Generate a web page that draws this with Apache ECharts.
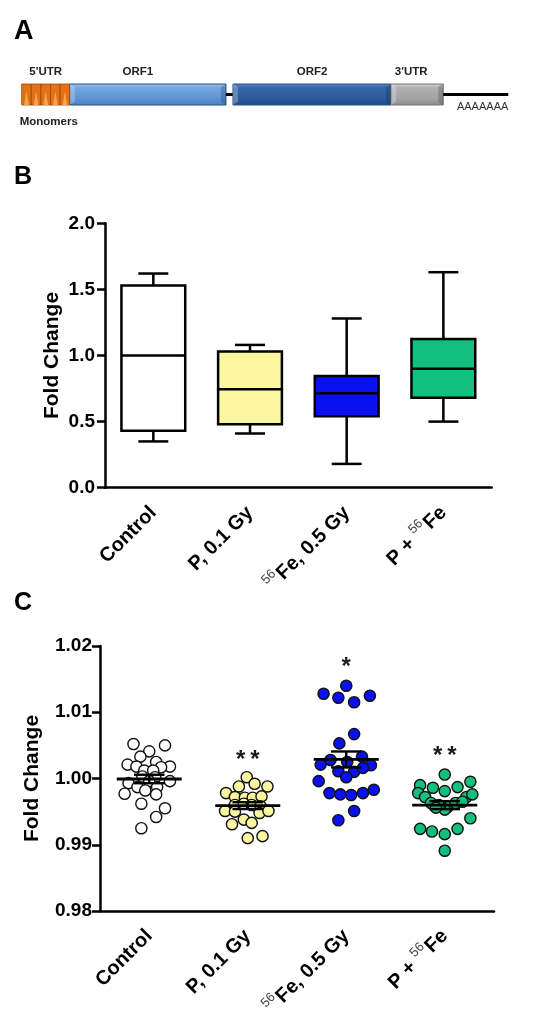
<!DOCTYPE html>
<html><head><meta charset="utf-8">
<script src="https://cdn.jsdelivr.net/npm/echarts@6.0.0/dist/echarts.min.js"></script>
<style>html,body{margin:0;padding:0;background:#fff}#c{width:535px;height:1015px}</style>
</head><body><div id="c"></div>
<script>
// ---------- DATA ----------
const categories = ['Control', 'P, 0.1 Gy', '56Fe, 0.5 Gy', 'P + 56Fe'];

// Panel A: schematic segments [start, end] in arbitrary length units
const segNames  = ["5'UTR", 'ORF1', '', 'ORF2', "3'UTR", 'AAAAAAA'];
const segKinds  = ['utr5', 'orf1', 'linker', 'orf2', 'utr3', 'tail'];
const segStart  = [0, 48, 204, 211, 369, 421];
const segEnd    = [48, 204, 211, 369, 421, 486];
const monomerCount = 5;

// Panel B: box plots [min, q1, median, q3, max]
const boxControl = [0.35, 0.43, 1.00, 1.53, 1.62];
const boxP01     = [0.41, 0.48, 0.745, 1.03, 1.08];
const boxFe      = [0.18, 0.54, 0.715, 0.845, 1.28];
const boxPFe     = [0.50, 0.68, 0.90, 1.125, 1.63];

// Panel C: individual points [horizontal jitter (fraction of category), fold change]
const ctrlDots = [
 [-0.16, 1.0052], [0.16, 1.0050], [0.00, 1.0041], [-0.09, 1.0033], [0.07, 1.0025],
 [-0.22, 1.0021], [-0.13, 1.0018], [0.21, 1.0018], [0.12, 1.0017], [-0.05, 1.0012],
 [0.04, 1.0012], [-0.07, 1.0003], [0.06, 1.0002], [0.00, 0.9996], [-0.21, 0.9993],
 [0.21, 0.9996], [-0.12, 0.9987], [-0.04, 0.9982], [0.08, 0.9987], [-0.25, 0.9977],
 [0.07, 0.9976], [-0.08, 0.9962], [0.16, 0.9955], [0.07, 0.9942], [-0.08, 0.9925]
];
const p01Dots = [
 [-0.01, 1.0002], [0.07, 0.9992], [-0.09, 0.9988], [0.20, 0.9988], [-0.22, 0.9978],
 [-0.13, 0.9972], [-0.03, 0.9971], [0.05, 0.9971], [0.14, 0.9973], [-0.13, 0.9960],
 [-0.04, 0.9962], [0.04, 0.9960], [0.13, 0.9958], [-0.23, 0.9951], [-0.13, 0.9950],
 [0.12, 0.9948], [0.21, 0.9951], [-0.04, 0.9938], [-0.16, 0.9931], [0.04, 0.9933],
 [0.00, 0.9910], [0.15, 0.9913]
];
const feDots = [
 [0.00, 1.0140], [-0.23, 1.0128], [-0.08, 1.0122], [0.08, 1.0115], [0.24, 1.0125],
 [0.08, 1.0067], [-0.07, 1.0053], [0.16, 1.0033], [-0.16, 1.0028], [0.01, 1.0025],
 [-0.26, 1.0021], [0.25, 1.0020], [-0.08, 1.0011], [0.08, 1.0010], [0.17, 1.0016],
 [0.00, 1.0002], [-0.28, 0.9996], [-0.17, 0.9978], [-0.06, 0.9976], [0.05, 0.9975],
 [0.17, 0.9978], [0.28, 0.9983], [0.08, 0.9951], [-0.08, 0.9937]
];
const pfeDots = [
 [0.00, 1.0006], [-0.25, 0.9990], [-0.12, 0.9986], [0.00, 0.9981], [0.13, 0.9987],
 [0.26, 0.9995], [-0.27, 0.9978], [-0.20, 0.9972], [0.22, 0.9972], [0.28, 0.9976],
 [-0.14, 0.9963], [-0.06, 0.9960], [0.03, 0.9957], [0.11, 0.9963], [0.00, 0.9953],
 [-0.09, 0.9956], [0.18, 0.9965], [0.26, 0.9940], [-0.25, 0.9924], [-0.13, 0.9920],
 [0.00, 0.9916], [0.13, 0.9924], [0.00, 0.9891]
];
// significance marks and their heights
const sigLabels = ['', '*\u2009*', '*', '*\u2009*'];
const sigY      = [null, 1.0027, 1.0167, 1.0033];

const yTicksB = [0, 0.5, 1.0, 1.5, 2.0];
const yTicksC = [0.98, 0.99, 1.00, 1.01, 1.02];

// ---------- STYLE ----------
const FONT = '"Liberation Sans", Arial, Helvetica, sans-serif';
const fills = ['#ffffff', '#fbf6a0', '#0a10f2', '#12c07e'];
const BLACK = '#000';

const chart = echarts.init(document.getElementById('c'), null, {renderer: 'canvas'});

function fmtCat(v) {
  const k = v.indexOf('56Fe');
  if (k < 0) return '{b|' + v + '}';
  const pre = v.slice(0, k), post = v.slice(k + 2);
  return (pre ? '{b|' + pre + '}' : '') + '{s|56}{b|' + post + '}';
}
const catRich = {
  b: { fontSize: 20, fontWeight: 'bold', color: BLACK, fontFamily: FONT, lineHeight: 28, verticalAlign: 'middle' },
  s: { fontSize: 13, fontWeight: 'normal', color: '#444', fontFamily: FONT, lineHeight: 12, verticalAlign: 'top', padding: [0, 1, 0, 0] }
};

function xCat(gi) {
  return {
    type: 'category', gridIndex: gi, data: categories,
    axisLine: { lineStyle: { color: BLACK, width: 2.5 } },
    axisTick: { alignWithLabel: true, length: 8, lineStyle: { color: BLACK, width: 2.5 } },
    axisLabel: { interval: 0, rotate: 45, margin: 22, color: BLACK, fontFamily: FONT, fontWeight: 'bold',
                 fontSize: 20, formatter: fmtCat, rich: catRich },
    splitLine: { show: false }
  };
}
function yVal(gi, ticks, dec, gap, lblMargin) {
  return {
    type: 'value', gridIndex: gi, min: ticks[0], max: ticks[ticks.length - 1],
    interval: +(ticks[1] - ticks[0]).toFixed(6),
    axisLine: { show: true, lineStyle: { color: BLACK, width: 2.5 } },
    axisTick: { show: true, length: 8, lineStyle: { color: BLACK, width: 2.5 } },
    axisLabel: { color: BLACK, fontFamily: FONT, fontWeight: 'bold', fontSize: 19, margin: lblMargin,
                 formatter: v => v.toFixed(dec) },
    splitLine: { show: false },
    name: 'Fold Change', nameLocation: 'middle', nameRotate: 90, nameGap: gap, nameMoveOverlap: false,
    nameTextStyle: { color: BLACK, fontFamily: FONT, fontWeight: 'bold', fontSize: 21 }
  };
}

// ---------- Panel A render ----------
function renderGene(params, api) {
  const i = params.dataIndex;
  const s = api.value(0), e = api.value(1);
  const p0 = api.coord([s, 0]), p1 = api.coord([e, 0]);
  const h = api.size([0, 2])[1];
  const top = p0[1] - h / 2;
  const w = p1[0] - p0[0];
  const kind = segKinds[i];
  const children = [];
  const lblStyle = { fill: '#222', font: 'bold 11.5px ' + FONT, textAlign: 'center', textVerticalAlign: 'middle' };
  if (kind === 'linker' || kind === 'tail') {
    children.push({ type: 'line', shape: { x1: p0[0], y1: p0[1], x2: p1[0], y2: p1[1] }, style: { stroke: '#000', lineWidth: 3 } });
    if (kind === 'tail') {
      children.push({ type: 'text', style: { text: segNames[i], x: p1[0], y: p0[1] + 12, fill: '#333',
        font: '11px ' + FONT, textAlign: 'right', textVerticalAlign: 'middle' } });
    }
  } else if (kind === 'utr5') {
    const uw = w / monomerCount;
    for (let k = 0; k < monomerCount; k++) {
      const x = p0[0] + k * uw;
      children.push({ type: 'rect', shape: { x: x, y: top, width: uw, height: h },
        style: { fill: '#e2721a', stroke: '#9a4800', lineWidth: 0.8 } });
      children.push({ type: 'polygon', shape: { points: [[x + uw * 0.25, top + h], [x + uw * 0.5, top + h * 0.35], [x + uw * 0.75, top + h]] },
        style: { fill: '#f7a253' } });
    }
    children.push({ type: 'text', style: Object.assign({ text: segNames[i], x: (p0[0] + p1[0]) / 2, y: top - 12 }, lblStyle) });
    children.push({ type: 'text', style: { text: 'Monomers', x: p0[0] - 2, y: top + h + 17, fill: '#222',
      font: 'bold 11.5px ' + FONT, textAlign: 'left', textVerticalAlign: 'middle' } });
  } else {
    let grad;
    if (kind === 'orf1') grad = [['#9cc4ee', 0], ['#74a6e0', 0.2], ['#5d92d2', 0.7], ['#4a7fc0', 1]];
    else if (kind === 'orf2') grad = [['#5a88c2', 0], ['#3566a8', 0.2], ['#2c5b9a', 0.7], ['#1f4a86', 1]];
    else grad = [['#d6d6d6', 0], ['#b0b0b0', 0.2], ['#a2a2a2', 0.7], ['#8a8a8a', 1]];
    const stroke = kind === 'utr3' ? '#777' : '#2c4f80';
    children.push({ type: 'rect', shape: { x: p0[0], y: top, width: w, height: h },
      style: { fill: new echarts.graphic.LinearGradient(0, 0, 0, 1, grad.map(g => ({ offset: g[1], color: g[0] }))),
               stroke: stroke, lineWidth: 1 } });
    children.push({ type: 'polygon', shape: { points: [[p0[0], top], [p0[0] + 5, top + 3], [p0[0] + 5, top + h - 3], [p0[0], top + h]] },
      style: { fill: 'rgba(255,255,255,0.25)' } });
    children.push({ type: 'polygon', shape: { points: [[p1[0], top], [p1[0] - 5, top + 3], [p1[0] - 5, top + h - 3], [p1[0], top + h]] },
      style: { fill: 'rgba(0,0,0,0.18)' } });
    children.push({ type: 'text', style: Object.assign({ text: segNames[i], x: (p0[0] + p1[0]) / 2 + (kind === 'orf1' ? -10 : (kind === 'utr3' ? -6 : 0)), y: top - 12 }, lblStyle) });
  }
  return { type: 'group', children: children };
}

// ---------- Panel B render ----------
const boxes = [boxControl, boxP01, boxFe, boxPFe];
function renderBox(params, api) {
  const ci = api.value(0);
  const bw = api.size([1, 0])[0];
  const cx = api.coord([ci, 0])[0];
  const y = k => api.coord([ci, api.value(k)])[1];
  const half = bw * 0.33, cap = bw * 0.155;
  const ls = { stroke: BLACK, lineWidth: 2.5 };
  return { type: 'group', children: [
    { type: 'line', shape: { x1: cx, y1: y(1), x2: cx, y2: y(2) }, style: ls },
    { type: 'line', shape: { x1: cx, y1: y(4), x2: cx, y2: y(5) }, style: ls },
    { type: 'line', shape: { x1: cx - cap, y1: y(1), x2: cx + cap, y2: y(1) }, style: ls },
    { type: 'line', shape: { x1: cx - cap, y1: y(5), x2: cx + cap, y2: y(5) }, style: ls },
    { type: 'rect', shape: { x: cx - half, y: y(4), width: 2 * half, height: y(2) - y(4) },
      style: { fill: fills[ci], stroke: BLACK, lineWidth: 2.5 } },
    { type: 'line', shape: { x1: cx - half, y1: y(3), x2: cx + half, y2: y(3) }, style: ls }
  ] };
}

// ---------- Panel C render ----------
const dotGroups = [ctrlDots, p01Dots, feDots, pfeDots];
function renderDot(params, api) {
  const ci = api.value(0);
  const bw = api.size([1, 0])[0];
  const c = api.coord([ci, api.value(2)]);
  return { type: 'circle', shape: { cx: c[0] + api.value(1) * bw, cy: c[1], r: 5.6 },
           style: { fill: fills[ci], stroke: '#111', lineWidth: 1.4 } };
}
function stats(arr) {
  const v = arr.map(d => d[1]);
  const n = v.length;
  const m = v.reduce((a, b) => a + b, 0) / n;
  const sd = Math.sqrt(v.reduce((a, b) => a + (b - m) * (b - m), 0) / (n - 1));
  return [m, sd / Math.sqrt(n)];
}
function renderMean(params, api) {
  const ci = api.value(0);
  const bw = api.size([1, 0])[0];
  const pm = api.coord([ci, api.value(1)]);
  const pt = api.coord([ci, api.value(1) + api.value(2)]);
  const pb = api.coord([ci, api.value(1) - api.value(2)]);
  const half = bw * 0.33, cap = bw * 0.155;
  const ls = { stroke: BLACK, lineWidth: 2.4 };
  return { type: 'group', children: [
    { type: 'line', shape: { x1: pm[0] - half, y1: pm[1], x2: pm[0] + half, y2: pm[1] }, style: { stroke: BLACK, lineWidth: 2.8 } },
    { type: 'line', shape: { x1: pm[0], y1: pt[1], x2: pm[0], y2: pb[1] }, style: ls },
    { type: 'line', shape: { x1: pm[0] - cap, y1: pt[1], x2: pm[0] + cap, y2: pt[1] }, style: ls },
    { type: 'line', shape: { x1: pm[0] - cap, y1: pb[1], x2: pm[0] + cap, y2: pb[1] }, style: ls }
  ] };
}
function renderSig(params, api) {
  const ci = api.value(0);
  const p = api.coord([ci, api.value(1)]);
  return { type: 'text', style: { text: sigLabels[ci], x: p[0], y: p[1], fill: '#1a1a1a',
           font: 'bold 24px ' + FONT, textAlign: 'center', textVerticalAlign: 'middle' } };
}

const series = [];
series.push({ type: 'custom', xAxisIndex: 0, yAxisIndex: 0, renderItem: renderGene, silent: true,
  data: segStart.map((s, i) => [s, segEnd[i]]), encode: { x: [0, 1], y: -1 } });
series.push({ type: 'custom', xAxisIndex: 1, yAxisIndex: 1, renderItem: renderBox, silent: true,
  data: boxes.map((b, i) => [i].concat(b)), encode: { x: 0, y: [1, 2, 3, 4, 5] } });
dotGroups.forEach((g, gi) => {
  series.push({ type: 'custom', xAxisIndex: 2, yAxisIndex: 2, renderItem: renderDot, silent: true,
    data: g.map(d => [gi, d[0], d[1]]), encode: { x: 0, y: 2 } });
});
series.push({ type: 'custom', xAxisIndex: 2, yAxisIndex: 2, renderItem: renderMean, silent: true, z: 5,
  data: dotGroups.map((g, gi) => [gi].concat(stats(g))), encode: { x: 0, y: 1 } });
series.push({ type: 'custom', xAxisIndex: 2, yAxisIndex: 2, renderItem: renderSig, silent: true,
  data: sigY.map((y, i) => [i, y]).filter(d => d[1] !== null), encode: { x: 0, y: 1 } });

const option = {
  animation: false,
  backgroundColor: '#fff',
  textStyle: { fontFamily: FONT },
  grid: [
    { left: 21.7, top: 84, width: 486.6, height: 21, outerBoundsMode: 'none', containLabel: false },
    { left: 105, top: 223.3, width: 386.7, height: 264.4, outerBoundsMode: 'none', containLabel: false },
    { left: 100, top: 646, width: 394, height: 265, outerBoundsMode: 'none', containLabel: false }
  ],
  xAxis: [
    { type: 'value', gridIndex: 0, min: 0, max: segEnd[segEnd.length - 1], show: false },
    xCat(1),
    xCat(2)
  ],
  yAxis: [
    { type: 'value', gridIndex: 0, min: -1, max: 1, show: false },
    yVal(1, yTicksB, 1, 42, 10),
    yVal(2, yTicksC, 2, 57, 8)
  ],
  graphic: [
    { type: 'text', left: 14, top: 18, style: { text: 'A', font: 'bold 27px ' + FONT, fill: '#000' } },
    { type: 'text', left: 14, top: 165, style: { text: 'B', font: 'bold 25px ' + FONT, fill: '#000' } },
    { type: 'text', left: 14, top: 591, style: { text: 'C', font: 'bold 25px ' + FONT, fill: '#000' } }
  ],
  series: series
};
chart.setOption(option);
</script>
</body></html>
